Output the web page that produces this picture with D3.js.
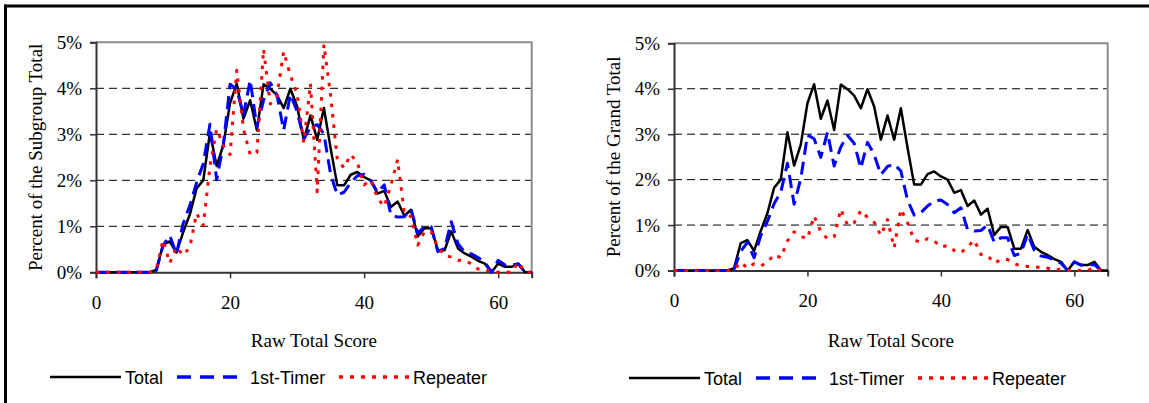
<!DOCTYPE html>
<html>
<head>
<meta charset="utf-8">
<script src="https://cdn.jsdelivr.net/npm/d3@7"></script>
<style>
  body { margin: 0; background: #fff; }
  svg { display: block; }
</style>
</head>
<body>
<svg id="chart" width="1149" height="403"></svg>
<script>
// Raw total score categories (0 .. 65)
const scores = d3.range(0, 66);

// Percent of all examinees at each score (same in both panels)
const totalPct = [
  0,0,0,0,0,0,0,0,0,0.05,
  0.60,0.67,0.43,0.87,1.26,1.82,2.00,3.04,2.31,2.77,
  3.68,4.10,3.34,3.74,3.09,4.09,3.99,3.85,3.57,3.99,
  3.61,2.88,3.41,2.88,3.57,2.70,1.89,1.89,2.12,2.18,
  2.07,2.00,1.71,1.77,1.42,1.54,1.23,1.36,0.78,0.96,
  0.96,0.48,0.48,0.89,0.52,0.41,0.34,0.25,0.19,0.00,
  0.19,0.12,0.12,0.19,0.00,0.00
];

// Percent of each subgroup's own total
const firstSubPct = [
  0,0,0,0,0,0,0,0,0,0.04,
  0.58,0.80,0.40,1.06,1.45,1.95,2.36,3.22,2.01,2.78,
  4.09,3.98,3.42,4.18,3.16,3.74,4.12,3.85,3.09,3.87,
  3.50,2.90,3.15,3.21,3.01,2.13,1.68,1.74,1.95,2.10,
  2.13,1.99,1.74,1.90,1.24,1.20,1.21,1.37,0.85,0.99,
  0.99,0.45,0.52,1.10,0.62,0.44,0.40,0.32,0.22,0.00,
  0.26,0.16,0.16,0.18,0.00,0.00
];
const repeatSubPct = [
  0,0,0,0,0,0,0,0,0,0.07,
  0.70,0.20,0.55,0.37,0.55,1.28,1.02,2.30,3.11,2.75,
  2.56,4.39,3.11,2.56,2.60,4.85,3.66,3.84,4.80,4.28,
  3.88,2.82,4.10,1.75,4.95,3.84,2.45,2.27,2.56,2.38,
  1.90,2.01,1.61,1.43,1.90,2.45,1.28,1.21,0.59,0.88,
  0.88,0.55,0.37,0.33,0.26,0.26,0.18,0.07,0.07,0.00,
  0.00,0.00,0.00,0.22,0.00,0.00
];

// Percent of the grand total contributed by each subgroup
const firstGrandPct = [
  0,0,0,0,0,0,0,0,0,0.03,
  0.42,0.62,0.28,0.77,1.08,1.47,1.72,2.36,1.46,2.02,
  2.98,2.90,2.49,3.04,2.30,2.72,2.97,2.80,2.25,2.82,
  2.55,2.11,2.29,2.34,2.19,1.55,1.22,1.27,1.42,1.53,
  1.55,1.45,1.27,1.38,0.90,0.87,0.88,1.00,0.62,0.72,
  0.72,0.33,0.38,0.80,0.45,0.32,0.29,0.23,0.16,0.00,
  0.19,0.12,0.12,0.13,0.00,0.00
];
const repeatGrandPct = [
  0,0,0,0,0,0,0,0,0,0.02,
  0.18,0.05,0.15,0.10,0.18,0.35,0.28,0.65,0.85,0.75,
  0.70,1.20,0.85,0.70,0.74,1.35,1.00,1.05,1.32,1.17,
  1.06,0.77,1.12,0.50,1.35,1.05,0.67,0.62,0.70,0.65,
  0.52,0.55,0.44,0.39,0.52,0.67,0.35,0.33,0.16,0.24,
  0.24,0.15,0.10,0.09,0.07,0.07,0.05,0.02,0.02,0.00,
  0.00,0.00,0.00,0.06,0.00,0.00
];

const seriesNames = ["Total", "1st-Timer", "Repeater"];
const xTickValues = [0, 20, 40, 60];
const yTickValues = [0, 1, 2, 3, 4, 5];

const seriesStyle = [
  { color: "#000000", width: 2.5, dash: null },
  { color: "#0000ff", width: 3,   dash: "13,7" },
  { color: "#ff0000", width: 3,   dash: "3.5,7" }
];

const panels = [
  { x0: 96,  x1: 531.7,  y0: 272.3, y1: 42.3, title: "Percent of the Subgroup Total",
    titleX: 42, legendX: 50, legendY: 377,
    series: [totalPct, firstSubPct, repeatSubPct] },
  { x0: 674, x1: 1107.7, y0: 270.5, y1: 43.3, title: "Percent of the Grand Total",
    titleX: 620, legendX: 629, legendY: 378,
    series: [totalPct, firstGrandPct, repeatGrandPct] }
];

const svg = d3.select("#chart");
const serif = "'Times New Roman', 'Liberation Serif', serif";
const sans = "Arial, 'Liberation Sans', sans-serif";

svg.append("rect").attr("width", 1149).attr("height", 403).attr("fill", "#fff");

// outer frame (top and left edges)
svg.append("line").attr("x1", 4).attr("x2", 1149).attr("y1", 6).attr("y2", 6)
  .attr("stroke", "#000").attr("stroke-width", 3);
svg.append("line").attr("x1", 5.5).attr("x2", 5.5).attr("y1", 4.5).attr("y2", 403)
  .attr("stroke", "#000").attr("stroke-width", 3);

panels.forEach(p => {
  const g = svg.append("g");
  const x = d3.scaleLinear().domain([0, 65]).range([p.x0, p.x1]);
  const y = d3.scaleLinear().domain([0, 5]).range([p.y0, p.y1]);

  // dashed gridlines
  g.append("g").selectAll("line")
    .data(yTickValues.filter(v => v > 0 && v < 5))
    .join("line")
    .attr("x1", p.x0).attr("x2", p.x1)
    .attr("y1", d => y(d)).attr("y2", d => y(d))
    .attr("stroke", "#000").attr("stroke-width", 1)
    .attr("stroke-dasharray", "8,5");

  // plot area border (top and right)
  g.append("path")
    .attr("d", `M${p.x0},${y(5)}H${p.x1}V${y(0)}`)
    .attr("fill", "none").attr("stroke", "#8c8c8c").attr("stroke-width", 2);

  // y axis
  const yAxis = d3.axisLeft(y).tickValues(yTickValues)
    .tickFormat(d => d + "%").tickSize(6).tickPadding(8);
  const ya = g.append("g").attr("transform", `translate(${p.x0},0)`).call(yAxis);
  ya.select(".domain").attr("stroke", "#333").attr("stroke-width", 2);
  ya.selectAll(".tick line").attr("stroke", "#333").attr("stroke-width", 1.5);
  ya.selectAll(".tick text").attr("font-family", serif).attr("font-size", 19)
    .attr("fill", "#000");

  // x axis
  const xAxis = d3.axisBottom(x).tickValues(xTickValues).tickSize(6).tickPadding(17);
  const xa = g.append("g").attr("transform", `translate(0,${p.y0})`).call(xAxis);
  xa.select(".domain").attr("stroke", "#333").attr("stroke-width", 2);
  xa.selectAll(".tick line").attr("stroke", "#333").attr("stroke-width", 1.5);
  xa.selectAll(".tick text").attr("font-family", serif).attr("font-size", 19)
    .attr("fill", "#000");

  // axis titles
  g.append("text")
    .attr("transform", `translate(${p.titleX},${(p.y0 + p.y1) / 2}) rotate(-90)`)
    .attr("text-anchor", "middle").attr("font-family", serif).attr("font-size", 19)
    .text(p.title);
  g.append("text")
    .attr("x", (p.x0 + p.x1) / 2).attr("y", 347)
    .attr("text-anchor", "middle").attr("font-family", serif).attr("font-size", 19)
    .text("Raw Total Score");

  // series lines: Total first, then 1st-Timer, then Repeater on top
  const line = d3.line().x((d, i) => x(scores[i])).y(d => y(d));
  p.series.forEach((vals, k) => {
    const st = seriesStyle[k];
    g.append("path")
      .datum(vals)
      .attr("d", line)
      .attr("fill", "none")
      .attr("stroke", st.color)
      .attr("stroke-width", st.width)
      .attr("stroke-linejoin", "round")
      .attr("stroke-dasharray", st.dash);
  });

  // legend
  const legendItems = [
    { x1: 0,   x2: 71,  tx: 75 },
    { x1: 127, x2: 191, tx: 200 },
    { x1: 289, x2: 359, tx: 363 }
  ];
  const lg = g.append("g").attr("transform", `translate(${p.legendX},${p.legendY})`);
  legendItems.forEach((it, k) => {
    const st = seriesStyle[k];
    lg.append("line").attr("x1", it.x1).attr("x2", it.x2).attr("y1", 0).attr("y2", 0)
      .attr("stroke", st.color).attr("stroke-width", k === 0 ? 2.5 : 3.5)
      .attr("stroke-dasharray", k === 1 ? "14,9" : (k === 2 ? "4,7" : null));
    lg.append("text").attr("x", it.tx).attr("y", 6.5)
      .attr("font-family", sans).attr("font-size", 18).attr("fill", "#000")
      .text(seriesNames[k]);
  });
});
</script>
</body>
</html>
